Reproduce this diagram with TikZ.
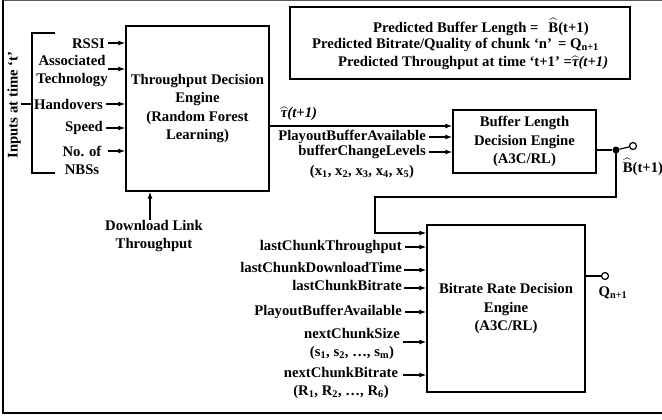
\documentclass[tikz,border=0pt]{standalone}
\usepackage{fontspec}
\setmainfont{Liberation Serif}
\usepackage{amsmath}
\usetikzlibrary{arrows.meta}

\tikzset{
  lbl/.style={font=\fontsize{14.7}{18}\selectfont\bfseries, inner sep=0pt, align=center},
  engine/.style={draw, line width=1.4pt, inner sep=0pt, font=\fontsize{14.7}{18.5}\selectfont\bfseries, align=center},
  feed/.style={line width=1.2pt, -{Latex[length=7pt,width=5pt]}},
  wire/.style={line width=1.2pt},
  junction/.style={circle, fill, inner sep=0pt, minimum size=7pt},
  terminal/.style={circle, draw, fill=white, line width=1.2pt, inner sep=0pt, minimum size=7pt},
}

\newcommand{\hatB}{$\widehat{\text{B}}$}
\newcommand{\hattau}{$\widehat{\text{\itshape τ}}$}

\begin{document}
\begin{tikzpicture}[x=1pt,y=-1pt]
\useasboundingbox (0,0) rectangle (662,420);

% outer frame
\draw[gray!70!black, line width=1pt] (3,1) -- (662,1);
\draw[line width=2pt] (3,0) -- (3,413) -- (662,413);

% legend
\node[draw, line width=1.4pt, minimum width=340pt, minimum height=72pt, inner sep=0pt] (legend) at (460,43) {};
\node[lbl, anchor=west] (leg1) at (373,27) {Predicted Buffer Length =\hspace{10pt}\hatB(t+1)};
\node[lbl, anchor=west] (leg2) at (312,45) {Predicted Bitrate/Quality of chunk ‘n’ \,= Q\textsubscript{n+1}};
\node[lbl, anchor=west] (leg3) at (338,63) {Predicted Throughput at time ‘t+1’ =\hattau\textit{(t+1)}};

% inputs at time t
\node[lbl, rotate=90] (inputs) at (14,105) {Inputs at time ‘t’};
\draw[wire] (55,33) -- (32,33) -- (32,173) -- (55,173);
\coordinate (brk) at (32,104);
\draw[wire] (inputs.south |- brk) -- (brk);

% throughput decision engine
\node[engine, minimum width=143pt, minimum height=165pt] (tde) at (197.5,108.5)
  {Throughput Decision\\Engine\\(Random Forest\\Learning)};

\node[lbl, anchor=east] (rssi) at (105,44) {RSSI};
\node[lbl] (tech) at (72,71) {Associated\\Technology};
\node[lbl, anchor=east] (hand) at (103,104) {Handovers};
\node[lbl, anchor=east] (speed) at (103,128) {Speed};
\node[lbl] (nbs) at (82,160) {No. of\\NBSs};

\coordinate (in1) at (108,43);
\coordinate (in2) at (108,69);
\coordinate (in3) at (106,104);
\coordinate (in4) at (106,128);
\coordinate (in5) at (108,151);
\foreach \c in {in1,in2,in3,in4,in5}
  \draw[feed] (\c) -- (\c -| tde.west);

\node[lbl] (dlt) at (154,236) {Download Link\\Throughput};
\draw[feed] (dlt.north -| 150,0) -- (tde.south -| 150,0);

% buffer length decision engine
\node[engine, minimum width=143pt, minimum height=63pt] (bde) at (524.5,141.5)
  {Buffer Length\\Decision Engine\\(A3C/RL)};

\draw[feed] (tde.east |- 0,126) -- (bde.west |- 0,126);
\node[lbl] (tau) at (299,114) {\hattau\textit{(t+1)}};

\node[lbl, anchor=east] (pba1) at (426,137) {PlayoutBufferAvailable};
\node[lbl, anchor=east] (bcl) at (426,152) {bufferChangeLevels};
\node[lbl] (xs) at (362,172) {(x\textsubscript{1}, x\textsubscript{2}, x\textsubscript{3}, x\textsubscript{4}, x\textsubscript{5})};
\draw[feed] ([xshift=3pt]pba1.east) -- (pba1.east -| bde.west);
\draw[feed] ([xshift=3pt]bcl.east) -- (bcl.east -| bde.west);

% buffer output and feedback
\node[junction] (jn) at (616,150) {};
\node[terminal] (bout) at (633,146) {};
\draw[wire] (bde.east |- jn) -- (jn);
\draw[wire] (jn) -- (bout);
\node[lbl] (blab) at (643,167) {\hatB(t+1)};

% bitrate rate decision engine
\node[engine, minimum width=158pt, minimum height=167pt] (bre) at (506,308.5)
  {Bitrate Rate Decision\\Engine\\(A3C/RL)};

\draw[feed] (jn.center) -- (616,197) -- (375,197) -- (375,233) -- (bre.west |- 0,233);

\node[lbl, anchor=east] (lct) at (402,247) {lastChunkThroughput};
\node[lbl, anchor=east] (ldt) at (402,267) {lastChunkDownloadTime};
\node[lbl, anchor=east] (lcb) at (402,285) {lastChunkBitrate};
\node[lbl, anchor=east] (pba2) at (402,312) {PlayoutBufferAvailable};
\node[lbl] (ncs) at (352,344) {nextChunkSize\\(s\textsubscript{1}, s\textsubscript{2}, \dots, s\textsubscript{m})};
\node[lbl] (ncb) at (341,383) {nextChunkBitrate\\(R\textsubscript{1}, R\textsubscript{2}, \dots, R\textsubscript{6})};

\coordinate (b1) at (405,247);
\coordinate (b2) at (404,270);
\coordinate (b3) at (404,288);
\coordinate (b4) at (405,312);
\coordinate (b5) at (403,342);
\coordinate (b6) at (403,375);
\foreach \c in {b1,b2,b3,b4,b5,b6}
  \draw[feed] (\c) -- (\c -| bre.west);

% bitrate output
\node[terminal] (qout) at (605,276) {};
\draw[wire] (bre.east |- qout) -- (qout);
\node[lbl] (qlab) at (613,293) {Q\textsubscript{n+1}};

\end{tikzpicture}
\end{document}
